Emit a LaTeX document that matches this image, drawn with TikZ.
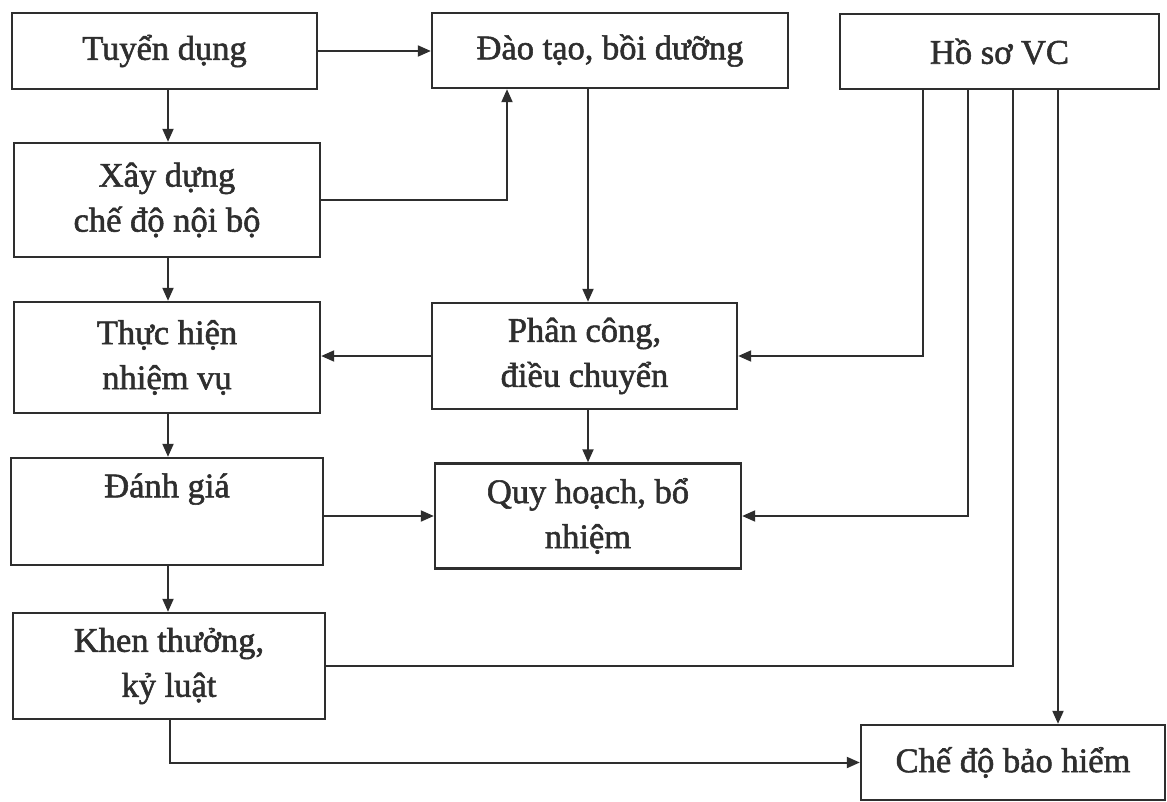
\documentclass[tikz,border=0pt]{standalone}
\usepackage{fontspec}
\setmainfont[FakeBold=1.6]{Liberation Serif}
\usetikzlibrary{arrows.meta,calc}
\definecolor{ink}{HTML}{2E2E2E}
\tikzset{
  box/.style={draw=ink, line width=2.4pt, rectangle, align=center, inner sep=0pt,
    text=ink, font=\fontsize{34.5}{45}\selectfont},
  arr/.style={draw=ink, line width=2pt, -{Triangle[length=13pt,width=11pt]}},
  ln/.style={draw=ink, line width=2pt}
}
\begin{document}
\begin{tikzpicture}[x=1pt,y=-1pt]
\useasboundingbox[fill=white] (0,0) rectangle (1167,802);
% left column
\node[box, minimum width=305pt, minimum height=76pt] (tuyen) at (164.5,51) {Tuyển dụng};
\node[box, minimum width=306pt, minimum height=114pt] (xay) at (167,200) {Xây dựng\\chế độ nội bộ};
\node[box, minimum width=306pt, minimum height=111pt] (thuc) at (167,357.5) {Thực hiện\\nhiệm vụ};
\node[box, minimum width=312pt, minimum height=107pt] (danh) at (167,511.5) {Đánh giá\\\phantom{g}};
\node[box, minimum width=312pt, minimum height=106pt] (khen) at (169,666) {Khen thưởng,\\kỷ luật};
% middle column
\node[box, minimum width=356pt, minimum height=75pt] (dao) at (610,50.5) {Đào tạo, bồi dưỡng};
\node[box, minimum width=305pt, minimum height=106pt] (phan) at (584.5,356) {Phân công,\\điều chuyển};
\node[box, minimum width=306pt, minimum height=105pt] (quy) at (588,516) {Quy hoạch, bổ\\nhiệm};
% right column
\node[box, minimum width=319pt, minimum height=75pt] (ho) at (999.5,51.5) {Hồ sơ VC};
\node[box, minimum width=304pt, minimum height=75pt] (che) at (1013,762.5) {Chế độ bảo hiểm};
% helper x positions
\coordinate (x168) at (168,0);
\coordinate (x170) at (170,0);
\coordinate (x507) at (507,0);
\coordinate (x588) at (588,0);
\coordinate (x923) at (923,0);
\coordinate (x968) at (968,0);
\coordinate (x1013) at (1013,0);
\coordinate (x1058) at (1058,0);
% connectors
\draw[arr] (tuyen.east) -- (dao.west |- tuyen.east);
\draw[arr] (tuyen.south -| x168) -- (xay.north -| x168);
\draw[arr] (xay.east) -| (dao.south -| x507);
\draw[arr] (xay.south -| x168) -- (thuc.north -| x168);
\draw[arr] (thuc.south -| x168) -- (danh.north -| x168);
\draw[arr] (danh.south -| x168) -- (khen.north -| x168);
\draw[arr] (dao.south -| x588) -- (phan.north -| x588);
\draw[arr] (phan.south -| x588) -- (quy.north -| x588);
\draw[arr] (phan.west) -- (thuc.east |- phan.west);
\draw[arr] (danh.east |- quy.west) -- (quy.west);
\draw[arr] (ho.south -| x923) |- (phan.east);
\draw[arr] (ho.south -| x968) |- (quy.east);
\draw[ln] (khen.east) -| (ho.south -| x1013);
\draw[arr] (ho.south -| x1058) -- (che.north -| x1058);
\draw[arr] (khen.south -| x170) |- (che.west);
\end{tikzpicture}
\end{document}
